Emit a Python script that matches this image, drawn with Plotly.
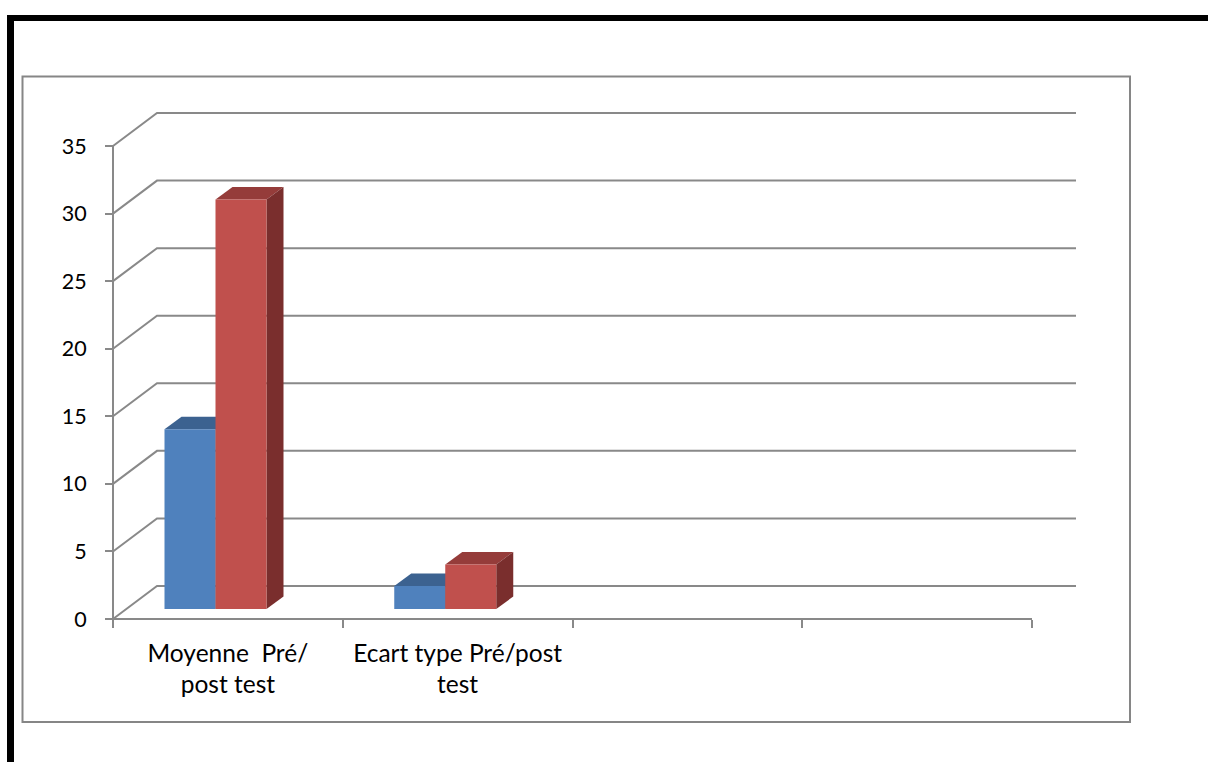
import plotly.graph_objects as go

# ---------------- data ----------------
categories = ["Moyenne  Pré/<br>post test", "Ecart type Pré/post<br>test"]
pre_values = [13.3, 1.7]     # blue series
post_values = [30.3, 3.3]    # red series
y_ticks = [0, 5, 10, 15, 20, 25, 30, 35]
n_slots = 4                  # category slots on the floor (two are empty)

# ---------------- layout constants (screen pixels) ----------------
W, H = 1208, 762
ML, MR, MT, MB = 100, 118, 100, 130
PW, PH = W - ML - MR, H - MT - MB
X0_PX = 113.0                # x = 0 (front-left corner)
FLOOR_PX = 619.0             # y = 0 on the front plane
SLOT_PX = 229.75             # pixels per category slot
UNIT_PX = 13.514             # pixels per value unit

DEPTH_DX = 44 / SLOT_PX
DEPTH_DY = 33 / UNIT_PX
BAR_W = 51 / SLOT_PX
BAR_OFF = 51.5 / SLOT_PX
BAR_BASE = 10 / UNIT_PX
BAR_DDX = 17 / SLOT_PX
BAR_DDY = 12.5 / UNIT_PX

x_range = [(ML - X0_PX) / SLOT_PX, (ML + PW - X0_PX) / SLOT_PX]
y_range = [-(MT + PH - FLOOR_PX) / UNIT_PX, (FLOOR_PX - MT) / UNIT_PX]

GRID = "#898989"
FONT = "Lato"

BLUE, BLUE_TOP, BLUE_SIDE = "#4F81BD", "#3C6290", "#2F4E74"
RED, RED_TOP, RED_SIDE = "#C0504D", "#953C3A", "#7A2E2D"

shapes = []

# back wall gridlines with oblique side-wall part
for v in y_ticks:
    shapes.append(dict(
        type="path", xref="x", yref="y", layer="below",
        path=f"M 0,{v} L {DEPTH_DX},{v + DEPTH_DY} L {n_slots + DEPTH_DX},{v + DEPTH_DY}",
        line=dict(color=GRID, width=2)))

# front axis lines
shapes.append(dict(type="path", xref="x", yref="y", layer="below",
                   path=f"M 0,0 L 0,{y_ticks[-1]}", line=dict(color=GRID, width=2)))
shapes.append(dict(type="path", xref="x", yref="y", layer="below",
                   path=f"M 0,0 L {n_slots},0", line=dict(color=GRID, width=2)))


def faces(x_left, height, top_col, side_col):
    x_right = x_left + BAR_W
    top = BAR_BASE + height
    out = []
    out.append(dict(
        type="path", xref="x", yref="y", layer="below",
        path=(f"M {x_left},{top} L {x_left + BAR_DDX},{top + BAR_DDY} "
              f"L {x_right + BAR_DDX},{top + BAR_DDY} L {x_right},{top} Z"),
        fillcolor=top_col, line=dict(width=0)))
    out.append(dict(
        type="path", xref="x", yref="y", layer="below",
        path=(f"M {x_right},{BAR_BASE} L {x_right},{top} "
              f"L {x_right + BAR_DDX},{top + BAR_DDY} L {x_right + BAR_DDX},{BAR_BASE + BAR_DDY} Z"),
        fillcolor=side_col, line=dict(width=0)))
    return out


for i in range(len(categories)):
    shapes += faces(i + BAR_OFF, pre_values[i], BLUE_TOP, BLUE_SIDE)
    shapes += faces(i + BAR_OFF + BAR_W, post_values[i], RED_TOP, RED_SIDE)


# paper frame (screen pixel positions converted to paper)
def px_x(p):
    return (p - ML) / PW


def px_y(p):
    return 1 - (p - MT) / PH


shapes.append(dict(type="rect", xref="paper", yref="paper",
                   x0=px_x(22.5), x1=px_x(1130), y0=px_y(722), y1=px_y(76.5),
                   line=dict(color="#868686", width=2), fillcolor="rgba(0,0,0,0)"))
shapes.append(dict(type="rect", xref="paper", yref="paper",
                   x0=px_x(7), x1=px_x(1230), y0=px_y(21), y1=px_y(15),
                   line=dict(width=0), fillcolor="black"))
shapes.append(dict(type="rect", xref="paper", yref="paper",
                   x0=px_x(7), x1=px_x(14), y0=px_y(790), y1=px_y(15),
                   line=dict(width=0), fillcolor="black"))

slots = list(range(len(categories)))

fig = go.Figure()
fig.add_trace(go.Bar(x=slots, y=pre_values, base=BAR_BASE, offset=BAR_OFF, width=BAR_W,
                     marker=dict(color=BLUE, line=dict(width=0)), name="Pré test",
                     showlegend=False, hoverinfo="y"))
fig.add_trace(go.Bar(x=slots, y=post_values, base=BAR_BASE, offset=BAR_OFF + BAR_W, width=BAR_W,
                     marker=dict(color=RED, line=dict(width=0)), name="Post test",
                     showlegend=False, hoverinfo="y"))

fig.update_layout(
    width=W, height=H,
    margin=dict(l=ML, r=MR, t=MT, b=MB, pad=0),
    paper_bgcolor="white", plot_bgcolor="white",
    barmode="overlay",
    font=dict(family=FONT, size=22, color="black"),
    shapes=shapes,
    showlegend=False,
    xaxis=dict(
        range=x_range, showgrid=False, zeroline=False, showline=False,
        anchor="free", position=(MT + PH - FLOOR_PX) / PH,
        tickmode="array", tickvals=[i + 0.5 for i in slots], ticktext=categories,
        ticks="", ticklabelstandoff=17, tickfont=dict(size=24.5),
        minor=dict(tickmode="array", tickvals=list(range(n_slots + 1)), ticks="outside",
                   ticklen=8, tickwidth=2, tickcolor=GRID, showgrid=False),
    ),
    yaxis=dict(
        range=y_range, showgrid=False, zeroline=False, showline=False,
        anchor="free", position=(X0_PX - ML) / PW,
        tickmode="array", tickvals=y_ticks,
        ticks="outside", ticklen=8, tickwidth=2, tickcolor=GRID,
        ticklabelstandoff=14, tickfont=dict(size=21.5),
    ),
)

fig.write_html(
    "out.html",
    config={"displayModeBar": False, "staticPlot": True},
    post_script="document.body.style.margin='0';document.body.style.overflow='hidden';",
)
